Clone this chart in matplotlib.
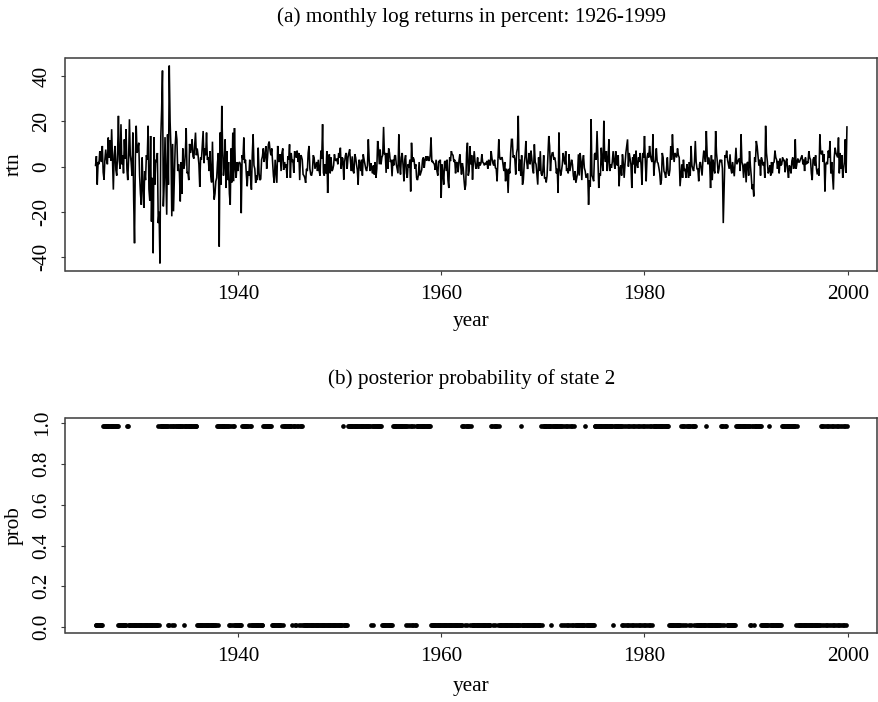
import numpy as np
import matplotlib
matplotlib.use("Agg")
import matplotlib.pyplot as plt

# ---------------- data ----------------
start_year = 1926  # first month: Jan 1926, monthly to Dec 1999

# monthly log returns in percent, one row per year (Jan..Dec)
rtn = [
    0.5, 4.6, -8.0, 2.0, 1.0, 6.8, 3.5, 2.0, 9.1, -2.5, -5.8, 3.0,          # 1926
    7.5, 3.0, 1.0, 12.8, 4.0, 11.6, 2.5, 16.5, 3.0, -10.2, 5.0, 9.1,        # 1927
    -1.5, -4.0, 6.0, 22.4, 2.5, -1.0, 18.7, 1.0, 5.0, -3.0, 12.0, 3.5,      # 1928
    16.5, -1.0, -6.0, 3.0, 20.9, 5.0, 2.0, -4.0, 15.0, -15.0, -33.9, 4.0,   # 1929
    18.0, 6.0, 8.0, 10.5, -4.0, -12.0, -16.9, 4.0, -9.0, -18.3, -2.0, -6.0, # 1930
    5.0, 3.0, 18.0, -10.0, -15.0, 13.5, -24.3, -5.0, -38.3, 13.0, -8.0, 3.0,  # 1931
    2.0, 6.0, -25.0, -20.0, -42.8, 13.0, 25.0, 42.4, -17.6, -8.0, 13.0, -5.0, # 1932
    -21.3, 14.2, -8.0, 44.6, 20.0, 8.0, -22.0, 10.0, -19.8, -5.0, 9.0, 15.7,  # 1933
    12.0, -2.0, 1.0, -3.0, -15.4, 2.0, -12.0, 8.0, -1.0, 0.5, 6.0, 17.0,    # 1934
    -3.0, -2.5, -6.0, 10.0, 6.0, 8.0, 12.0, 4.5, 3.5, 9.0, 15.0, 5.0,       # 1935
    8.0, 5.0, 1.0, -9.0, 4.0, 3.0, 9.0, 15.7, 1.5, 8.0, 5.0, 15.0,          # 1936
    3.0, 4.0, -2.0, 6.8, -4.0, -7.0, 11.0, -6.0, -14.6, -12.0, -6.5, -5.0,  # 1937
    2.0, 6.0, -35.4, 15.0, -8.0, 26.8, 8.0, -4.0, 1.0, 12.0, -9.5, 6.8,     # 1938
    -6.0, 2.0, -12.0, -16.9, 8.0, -7.0, 15.0, -6.5, 17.0, -1.0, -5.0, 2.0,  # 1939
    -2.0, 1.5, 2.0, 1.0, -20.6, 5.0, 3.0, 12.8, 1.5, 3.0, -3.5, -8.7,       # 1940
    -2.0, -4.0, 3.0, -5.0, -10.2, 5.0, 14.2, 0.5, -1.0, -7.2, -4.0, -6.0,   # 1941
    8.3, -3.0, -6.0, -5.5, 3.0, 4.5, 8.0, 2.0, 5.0, 9.0, -1.0, 4.0,         # 1942
    9.8, 11.0, 7.0, 5.0, 8.0, 2.0, -4.2, -7.2, 3.0, -2.0, -7.2, 9.1,        # 1943
    2.0, 3.0, 5.5, -2.0, 6.0, 8.0, -1.5, 2.0, -0.5, 1.0, -5.0, 4.5,         # 1944
    3.0, 9.8, -5.0, 6.0, 2.0, 3.0, -2.8, 6.8, 5.0, 4.0, 7.0, 2.0,           # 1945
    6.0, -6.0, 5.0, 4.5, 3.0, -3.5, -4.0, -5.0, -7.2, -1.0, -2.0, 6.0,      # 1946
    9.1, -1.0, -3.5, -4.0, -2.0, 5.0, 4.0, -1.0, 0.5, 2.0, -2.0, 3.0,       # 1947
    -2.0, -4.0, 7.0, 3.5, 18.7, -2.8, -4.0, 1.0, -3.0, 6.8, -11.7, 3.0,     # 1948
    5.4, -3.0, 4.0, -2.0, -1.3, 0.5, 5.4, 3.0, 2.5, 3.5, 1.0, 6.0,          # 1949
    4.0, 8.3, -1.0, 4.0, 3.5, -5.8, 2.0, 5.0, 6.0, -1.0, 3.9, 6.0,          # 1950
    7.6, 2.0, -2.0, 4.5, -2.0, -3.0, 5.5, 4.0, 1.0, -1.5, -8.0, 3.0,        # 1951
    1.5, -2.0, 3.0, -4.0, 5.4, 3.0, 1.0, -1.0, -2.0, 0.5, 12.0, 3.0,        # 1952
    -2.0, 1.5, -1.0, -3.0, 0.5, -3.5, 2.0, -5.0, -1.0, 11.3, 7.6, 1.0,      # 1953
    7.6, 1.0, 4.0, 5.0, 17.5, 5.4, 6.0, -2.8, 6.0, -1.0, 8.0, 6.0,          # 1954
    2.0, 3.0, -4.3, 3.0, 0.5, 4.6, 5.0, 1.0, -1.0, -3.0, 14.2, 0.9,         # 1955
    -3.5, 4.0, 6.0, 0.5, -6.5, 3.0, 5.0, -3.0, -5.0, 1.0, -0.5, 3.0,        # 1956
    -11.0, 10.5, 2.0, 4.0, 3.0, -1.0, 1.0, -5.0, -6.0, -4.0, 2.0, -4.0,     # 1957
    -2.8, -1.5, 3.0, 4.0, -0.6, 3.0, 4.5, 2.5, 4.6, 3.0, 2.5, 5.0,          # 1958
    12.8, 2.0, 2.4, 1.5, 1.0, -1.5, 3.0, -2.0, -4.0, 2.5, 2.0, 3.0,         # 1959
    -13.9, 0.9, -3.0, -8.0, 2.0, 2.5, -2.0, 3.0, -6.0, -9.5, 4.0, 2.4,      # 1960
    6.8, 5.4, 5.0, 2.0, 3.0, -3.0, 2.0, 1.5, -2.5, 2.5, 5.4, 0.5,           # 1961
    -3.5, 1.5, -0.6, -6.0, -10.2, -8.0, 6.0, 10.5, -4.0, -2.0, 9.0, 1.0,    # 1962
    5.0, -5.8, 2.0, 6.8, 2.0, -1.0, 0.5, 4.0, -1.0, 2.0, 0.5, 1.5,          # 1963
    5.4, 2.0, 1.5, 0.5, 1.6, 1.0, 2.5, -1.0, 3.0, 1.0, 0.5, 6.8,            # 1964
    3.5, 1.5, 0.5, 3.0, -0.6, -1.0, -6.5, 3.0, 12.0, 4.0, 3.0, 3.9,         # 1965
    3.9, 1.0, -2.0, 2.0, -6.5, -1.0, -2.0, -11.7, -1.0, -3.0, 6.0, 12.0,    # 1966
    12.0, 4.0, 5.0, 3.0, -3.5, 6.0, 8.0, 22.4, -2.0, 3.0, -4.0, 5.0,        # 1967
    -8.0, -6.0, 1.0, 4.6, 11.3, 2.0, -1.1, 3.0, 6.0, 1.0, 7.0, 3.5,         # 1968
    -1.0, -3.0, 9.8, 2.0, 1.0, -3.5, -8.0, 4.0, -2.0, 6.8, -3.0, -4.0,      # 1969
    -2.0, 5.0, -5.0, -5.0, -7.0, -4.0, 5.0, 13.5, 9.1, -2.0, 4.0, 6.0,      # 1970
    6.1, 3.0, 4.0, 2.0, -3.0, -1.0, -11.7, 15.0, -1.0, -4.0, -2.0, 0.9,     # 1971
    6.0, 3.0, 1.0, 6.8, -2.0, -1.0, -3.0, 5.4, -2.0, 0.5, 3.0, 0.9,         # 1972
    -4.0, -6.0, -2.0, -7.2, -5.0, -3.0, 5.4, -4.0, 6.0, 2.4, -6.0, 2.4,     # 1973
    5.0, -0.6, -2.0, -5.0, -4.0, -3.0, -16.9, -6.0, -9.0, 20.9, -4.0, -5.0, # 1974
    -6.5, 5.4, 6.0, 3.0, 15.7, 4.0, -9.5, -3.0, -4.0, 8.3, 2.0, -2.0,       # 1975
    20.2, 4.0, 2.0, 6.8, -2.0, 3.0, 12.0, -2.0, 1.0, -0.6, 2.0, 6.8,        # 1976
    2.0, -1.0, 6.8, 1.5, 0.5, 5.0, -8.7, -1.0, 0.5, -4.0, 5.4, 1.5,         # 1977
    -5.0, 1.0, 6.0, 9.0, 12.0, 0.0, 6.0, 3.5, 0.9, -9.5, 4.0, 1.0,          # 1978
    5.4, -3.0, 7.0, 1.0, -0.6, 4.0, 2.0, 6.0, 0.5, -8.0, 6.0, 4.0,          # 1979
    13.5, 2.0, -6.5, 3.9, 6.0, 4.0, 9.1, 5.0, 3.0, 2.0, 14.2, -4.0,         # 1980
    1.0, 3.0, 8.0, 2.0, 1.5, -0.6, -3.0, -8.0, -6.0, 6.0, 4.0, -2.0,        # 1981
    -3.0, -5.0, -1.0, 4.0, -3.0, -4.0, -1.5, 9.0, 3.0, 14.2, 6.0, 2.0,      # 1982
    6.0, 5.0, 4.0, 8.0, 5.0, 4.0, -8.7, -4.0, 1.0, -5.0, 3.0, -2.0,         # 1983
    -1.0, -5.0, 1.0, -1.0, -5.0, 2.0, -4.0, 9.1, 0.5, -1.0, -2.0, 2.0,      # 1984
    11.3, 2.0, -1.0, -1.0, -6.5, 1.0, 2.0, -1.0, -4.0, 3.0, 7.0, 5.0,       # 1985
    2.0, 15.7, 5.0, 1.0, 4.0, 1.0, -9.5, 5.0, -6.0, 3.0, -1.0, -3.0,        # 1986
    15.7, 6.0, 2.0, -3.0, -1.0, 3.0, 2.0, 3.0, -1.0, -25.0, -10.2, 5.0,     # 1987
    4.0, 7.0, 3.0, 1.0, -1.0, 5.4, -1.0, -3.0, 2.0, -1.0, -4.3, 2.0,        # 1988
    8.3, 1.0, 2.0, 3.0, 3.5, -2.0, 14.2, 2.0, 0.5, -5.0, 1.0, 1.0,          # 1989
    -7.0, 1.5, 2.0, -4.0, 6.8, 0.5, -4.0, -10.0, -8.0, -13.2, 4.0, 2.0,     # 1990
    11.3, 9.0, 5.0, 0.5, 3.0, -4.0, 4.0, 2.5, 0.5, 2.0, -5.0, 18.0,         # 1991
    6.0, 2.4, -3.0, -2.0, 0.5, -4.0, 2.0, -3.0, 1.5, 2.0, 7.0, 4.0,         # 1992
    3.0, -1.0, 2.5, -3.0, 3.5, 0.5, 1.0, 4.0, 2.5, 3.0, -2.5, 2.0,          # 1993
    3.5, -1.5, -5.0, 0.5, -0.5, -3.0, 2.5, 4.0, -1.0, 0.5, 12.0, -1.0,      # 1994
    1.5, 3.5, 2.0, 2.0, 3.0, 4.0, 5.0, 1.0, 3.0, -2.0, 4.0, 1.0,            # 1995
    2.0, 1.5, 6.8, 4.0, 3.0, -3.0, -6.0, 3.1, 4.0, 0.5, 5.0, -1.0,          # 1996
    -3.5, -1.0, -4.0, 14.2, 6.0, 5.4, 7.0, 2.0, 5.4, -11.0, 1.0, 2.0,       # 1997
    1.0, 7.0, 4.0, 11.3, -3.0, 2.0, -4.0, -10.2, 4.0, 8.3, 6.0, 5.0,        # 1998
    4.0, 12.8, -3.0, 6.0, -1.0, 5.0, -5.0, -1.0, 2.0, 12.0, -2.8, 17.5,     # 1999
]

# posterior state per month ('1' = state 2 likely, '0' = unlikely), Jan..Dec
state = [
    "000000000111", "111111111111", "111000000000", "011000000000",  # 1926-29
    "000000000000", "000000000000", "001011111111", "101011011011",  # 1930-33
    "111111110111", "111111111111", "000000000000", "000000000001",  # 1934-37
    "011111111111", "101010101000", "000001111111", "101100000000",  # 1938-41
    "000000111111", "111100000000", "000010111111", "111101101011",  # 1942-45
    "010110000000", "000000000000", "000000000000", "000000000000",  # 1946-49
    "000010000011", "111111111111", "111111111111", "101101111111",  # 1950-53
    "110000000000", "000111111111", "111111101010", "101010011111",  # 1954-57
    "111111111111", "000000000000", "000000000000", "000000000000",  # 1958-61
    "101101101101", "000000000000", "000000000001", "101101101000",  # 1962-65
    "000000000000", "000000000010", "000000000000", "000000000010",  # 1966-69
    "111111111101", "111111111101", "010101010101", "010000000000",  # 1970-73
    "001000000000", "011111111111", "111111111110", "111111111010",  # 1974-77
    "101010101010", "101010101010", "101010101011", "111111111111",  # 1978-81
    "111110000000", "000000010110", "101101101101", "100000000000",  # 1982-85
    "010000000000", "000000101101", "100000000000", "111111111111",  # 1986-89
    "111101011011", "111110100000", "000100000000", "000000111111",  # 1990-93
    "111111111110", "100000000000", "000000000000", "000010110101",  # 1994-97
    "010101010101", "010101010101",                                  # 1998-99
]
prob_high = 0.985   # level of the upper band of points
prob_low = 0.01     # level of the lower band of points

title_a = "(a) monthly log returns in percent: 1926-1999"
title_b = "(b) posterior probability of state 2"
xlabel = "year"
ylabel_a = "rtn"
ylabel_b = "prob"
xticks = [1940, 1960, 1980, 2000]
yticks_a = [-40, -20, 0, 20, 40]
yticks_b = [0.0, 0.2, 0.4, 0.6, 0.8, 1.0]

# ---------------- figure ----------------
plt.rcParams['font.family'] = ['Liberation Serif', 'DejaVu Serif']
plt.rcParams['axes.unicode_minus'] = False

W, H = 879, 702
FS = 15.3
fig = plt.figure(figsize=(W / 100, H / 100), dpi=100)


def box(l, t, r, b):
    return [l / W, 1 - b / H, (r - l) / W, (b - t) / H]


A1 = (65.5, 57.7, 877, 271.3)
A2 = (65.5, 418.3, 877, 633)
ax1 = fig.add_axes(box(*A1))
ax2 = fig.add_axes(box(*A2))

r = np.array(rtn, dtype=float)
t = start_year + np.arange(len(r)) / 12.0
flags = "".join(state)
p = np.array([prob_high if c == "1" else prob_low for c in flags])

ax1.plot(t, r, color="black", lw=1.15, solid_joinstyle="miter")
ax2.plot(t[:len(p)], p, "o", ms=3.4, color="black", mec="none")

for ax, A, yt, yl, fmt, xlo in ((ax1, A1, yticks_a, ylabel_a, "{:.0f}", 50.0),
                                (ax2, A2, yticks_b, ylabel_b, "{:.1f}", 53.0)):
    ax.margins(x=0.04, y=0.04)
    ax.set_xticks(xticks)
    ax.set_xticklabels([str(v) for v in xticks])
    ax.set_yticks(yt)
    ax.set_yticklabels([fmt.format(v) for v in yt])
    for s in ax.spines.values():
        s.set_color("#3a3a3a")
        s.set_linewidth(1.1)
    ax.tick_params(axis="both", direction="out", length=3, width=0.8,
                   color="#3a3a3a", labelsize=FS, pad=7)
    ax.tick_params(axis="y", labelrotation=90)
    for lab in ax.get_yticklabels():
        lab.set_va("center")
    l, tp, rr, b = A
    ax.set_xlabel(xlabel, fontsize=FS)
    ax.xaxis.label.set_va("center")
    ax.xaxis.set_label_coords(0.5, -xlo / (b - tp))
    ax.set_ylabel(yl, fontsize=FS)
    ax.yaxis.label.set_va("center")
    ax.yaxis.set_label_coords(-(l - 14) / (rr - l), 0.5)

cx = (A1[0] + A1[2]) / 2 / W
fig.text(cx, 1 - 17 / H, title_a, ha="center", va="center", fontsize=FS)
fig.text(cx, 1 - 379 / H, title_b, ha="center", va="center", fontsize=FS)

fig.savefig("out.png", dpi=100)
